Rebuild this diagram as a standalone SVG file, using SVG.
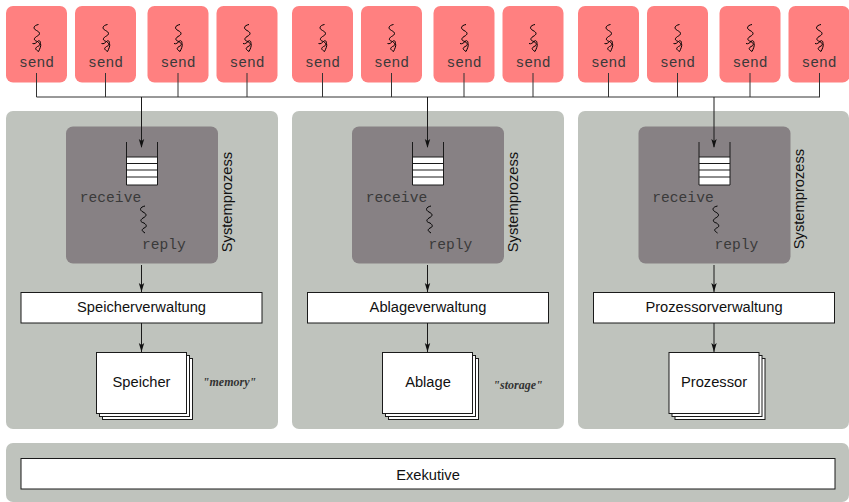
<svg xmlns="http://www.w3.org/2000/svg" xmlns:xlink="http://www.w3.org/1999/xlink" width="849" height="502" viewBox="0 0 849 502">
<style>
.send{fill:#ff8080}
.panel{fill:#bfc3bd}
.sys{fill:#878184}
.box{fill:#fff;stroke:#1a1a1a;stroke-width:1}
.ln{fill:none;stroke:#1a1a1a;stroke-width:1}
.w{fill:none;stroke:#000;stroke-width:1}
.mono{font-family:"Liberation Mono",monospace;font-size:14.600px;fill:#3a3a3a}
.sans{font-family:"Liberation Sans",Arial,sans-serif;font-size:14.700px;fill:#111}
.it{font-family:"Liberation Serif",serif;font-style:italic;font-weight:bold;font-size:12px;fill:#333}
text{text-anchor:middle}
</style>
<defs>
<path id="ah" d="M-2.700,-9 L0,0 L2.700,-9 L0,-7 Z" fill="#111"/>
<path id="sq" class="w" d="M2,0 C-3,1 -4,4 0,6 C4,8 4,10 0,12 C-3,14 -3,16 1,17 C4,19 4,21 1,22 C-2,24 -1,25 2,27"/>
<g id="sq2"><use xlink:href="#sq"/><path class="w" d="M-4,19 C-2,20 0,18 1,17 C3,15 4,17 4,19 C5,21 3,25 2,27"/></g>
<g id="sender"><rect class="send" x="-30.500" y="6" width="61" height="76.500" rx="7"/><use xlink:href="#sq2" y="24.500"/><text class="mono" y="67">send</text></g>
<g id="queue"><rect x="0" y="30" width="31" height="28" fill="#fff"/><path class="ln" d="M0,15 V58 H31 V15 M0,30 H31 M0,36.500 H31 M0,43 H31 M0,50 H31"/></g>
</defs>
<g id="senders">
<use id="s1" xlink:href="#sender" x="36.500"/><use id="s2" xlink:href="#sender" x="105.500"/><use id="s3" xlink:href="#sender" x="178"/><use id="s4" xlink:href="#sender" x="247"/>
<use id="s5" xlink:href="#sender" x="322.500"/><use id="s6" xlink:href="#sender" x="391.500"/><use id="s7" xlink:href="#sender" x="464"/><use id="s8" xlink:href="#sender" x="533"/>
<use id="s9" xlink:href="#sender" x="608.500"/><use id="s10" xlink:href="#sender" x="677.500"/><use id="s11" xlink:href="#sender" x="750"/><use id="s12" xlink:href="#sender" x="819"/>
</g>
<g id="panel-speicher"><rect class="panel" x="6" y="111" width="272" height="318" rx="7"/></g>
<g id="panel-ablage"><rect class="panel" x="292" y="111" width="272" height="318" rx="7"/></g>
<g id="panel-prozessor"><rect class="panel" x="578" y="111" width="271" height="318" rx="7"/></g>
<g id="panel-exekutive"><rect class="panel" x="6" y="443" width="843" height="59" rx="7"/></g>
<g id="sys1"><rect class="sys" x="66" y="126.500" width="152" height="137" rx="7"/>
<use xlink:href="#queue" x="126.500" y="127"/>
<text class="mono" x="110.500" y="202">receive</text><use xlink:href="#sq" x="143" y="206"/><text class="mono" x="164" y="249">reply</text>
<text class="sans" transform="translate(232,202) rotate(-90)">Systemprozess</text></g>
<g id="sys2"><rect class="sys" x="352" y="126.500" width="152" height="137" rx="7"/>
<use xlink:href="#queue" x="412.500" y="127"/>
<text class="mono" x="396.500" y="202">receive</text><use xlink:href="#sq" x="429" y="206"/><text class="mono" x="450.500" y="249">reply</text>
<text class="sans" transform="translate(518,202) rotate(-90)">Systemprozess</text></g>
<g id="sys3"><rect class="sys" x="638.500" y="126.500" width="152" height="137" rx="7"/>
<use xlink:href="#queue" x="699" y="127"/>
<text class="mono" x="683" y="202">receive</text><use xlink:href="#sq" x="715.500" y="206"/><text class="mono" x="736.500" y="249">reply</text>
<text class="sans" transform="translate(804,199) rotate(-90)">Systemprozess</text></g>
<g id="verwaltung1"><rect class="box" x="21" y="292.500" width="241" height="30.500"/><text class="sans" x="141.500" y="312">Speicherverwaltung</text></g>
<g id="verwaltung2"><rect class="box" x="307.500" y="292.500" width="241" height="30.500"/><text class="sans" x="428" y="312">Ablageverwaltung</text></g>
<g id="verwaltung3"><rect class="box" x="593.500" y="292.500" width="241" height="30.500"/><text class="sans" x="714" y="312">Prozessorverwaltung</text></g>
<g id="speicher"><rect class="box" x="102.500" y="358.500" width="90" height="61"/><rect class="box" x="99.500" y="355.500" width="90" height="61"/><rect class="box" x="96.500" y="352.500" width="90" height="61"/><text class="sans" x="141.500" y="387">Speicher</text></g>
<g id="ablage"><rect class="box" x="388.500" y="358.500" width="90" height="61"/><rect class="box" x="385.500" y="355.500" width="90" height="61"/><rect class="box" x="382.500" y="352.500" width="90" height="61"/><text class="sans" x="428" y="387">Ablage</text></g>
<g id="prozessor"><rect class="box" x="675" y="358.500" width="90" height="61"/><rect class="box" x="672" y="355.500" width="90" height="61"/><rect class="box" x="669" y="352.500" width="90" height="61"/><text class="sans" x="714" y="387">Prozessor</text></g>
<text class="it" x="229.500" y="386">"memory"</text>
<text class="it" x="518" y="389">"storage"</text>
<g id="exekutive"><rect class="box" x="21" y="458.500" width="814" height="30.500"/><text class="sans" x="428" y="480">Exekutive</text></g>
<g id="connectors">
<path class="ln" style="stroke:#333" d="M36.500,73 V97 H820 M105.500,73 V97 M178,73 V97 M247,73 V97 M322.500,73 V97 M391.500,73 V97 M464,73 V97 M533,73 V97 M608.500,73 V97 M677.500,73 V97 M750,73 V97 M819.500,73 V97"/>
<path class="ln" d="M141.500,97 V147 M427.500,97 V147 M714,97 V147 M141.500,265 V292 M427.500,265 V292 M714,265 V292 M141.500,323 V352 M427.500,323 V352 M714,323 V352"/>
<use xlink:href="#ah" x="141.500" y="148"/><use xlink:href="#ah" x="427.500" y="148"/><use xlink:href="#ah" x="714" y="148"/>
<use xlink:href="#ah" x="141.500" y="292"/><use xlink:href="#ah" x="427.500" y="292"/><use xlink:href="#ah" x="714" y="292"/>
<use xlink:href="#ah" x="141.500" y="352"/><use xlink:href="#ah" x="427.500" y="352"/><use xlink:href="#ah" x="714" y="352"/>
</g>
</svg>
